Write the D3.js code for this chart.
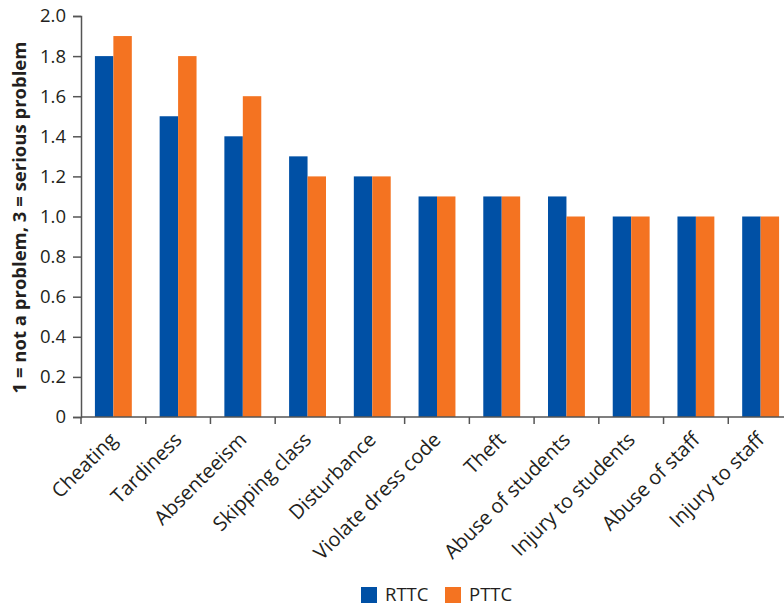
<!DOCTYPE html>
<html>
<head>
<meta charset="utf-8">
<script src="https://cdn.jsdelivr.net/npm/d3@7"></script>
<style>
  html, body { margin: 0; padding: 0; background: #fff; }
  svg { display: block; }
  text { font-family: "Open Sans", "Noto Sans", sans-serif; fill: #231f20; }
</style>
</head>
<body>
<svg id="chart" width="784" height="605"></svg>
<script>
const categories = ["Cheating", "Tardiness", "Absenteeism", "Skipping class", "Disturbance",
  "Violate dress code", "Theft", "Abuse of students", "Injury to students", "Abuse of staff", "Injury to staff"];
const seriesNames = ["RTTC", "PTTC"];
const rttc = [1.8, 1.5, 1.4, 1.3, 1.2, 1.1, 1.1, 1.1, 1.0, 1.0, 1.0];
const pttc = [1.9, 1.8, 1.6, 1.2, 1.2, 1.1, 1.1, 1.0, 1.0, 1.0, 1.0];
const yTicks = [0, 0.2, 0.4, 0.6, 0.8, 1.0, 1.2, 1.4, 1.6, 1.8, 2.0];
const colors = ["#0050a5", "#f47321"];

const svg = d3.select("#chart");
const plotLeft = 81, plotRight = 793, plotTop = 16, plotBottom = 417;

const x = d3.scaleBand().domain(categories).range([plotLeft, plotRight]).paddingInner(0.43).paddingOuter(0.215);
const xFull = d3.scaleBand().domain(categories).range([plotLeft, plotRight]).padding(0);
const xs = d3.scaleBand().domain(seriesNames).range([0, x.bandwidth()]);
const y = d3.scaleLinear().domain([0, 2]).range([plotBottom, plotTop]);

const data = categories.map((c, i) => ({ cat: c, vals: [rttc[i], pttc[i]] }));

// bars
const groups = svg.append("g").selectAll("g").data(data).join("g")
  .attr("transform", d => `translate(${x(d.cat)},0)`);
groups.selectAll("rect").data(d => d.vals.map((v, j) => ({ v, s: seriesNames[j], j })))
  .join("rect")
  .attr("x", d => xs(d.s))
  .attr("width", xs.bandwidth())
  .attr("y", d => y(d.v))
  .attr("height", d => y(0) - y(d.v))
  .attr("fill", d => colors[d.j]);

// y axis
const yAxis = svg.append("g").attr("transform", `translate(${plotLeft},0)`)
  .call(d3.axisLeft(y).tickValues(yTicks).tickSize(8).tickPadding(7)
    .tickFormat(d => d === 0 ? "0" : d3.format(".1f")(d)));
yAxis.select(".domain").attr("stroke", "#555").attr("stroke-width", 1.5);
yAxis.selectAll(".tick line").attr("stroke", "#555").attr("stroke-width", 1.5);
yAxis.selectAll("text").style("font-size", "18.5px").attr("fill", "#231f20");

// x axis with ticks at band boundaries
const xAxisG = svg.append("g").attr("transform", `translate(0,${plotBottom})`);
xAxisG.append("line").attr("x1", plotLeft).attr("x2", 784).attr("stroke", "#555").attr("stroke-width", 1.5);
xAxisG.selectAll("line.tk").data(categories).join("line").attr("class", "tk")
  .attr("x1", d => xFull(d)).attr("x2", d => xFull(d))
  .attr("y1", 0).attr("y2", 7).attr("stroke", "#555").attr("stroke-width", 1.5);
xAxisG.selectAll("text").data(categories).join("text")
  .attr("transform", d => `translate(${xFull(d) + xFull.bandwidth() / 2 + 5},${24}) rotate(-45)`)
  .attr("text-anchor", "end")
  .style("font-size", "20px")
  .text(d => d);

// y axis title
svg.append("text")
  .attr("transform", `translate(26,${(plotTop + plotBottom) / 2 + 1}) rotate(-90)`)
  .attr("text-anchor", "middle")
  .style("font-size", "18.5px")
  .style("font-weight", "bold")
  .text("1 = not a problem, 3 = serious problem");

// legend
const legend = svg.append("g").attr("transform", "translate(361,587)");
const items = legend.selectAll("g").data(seriesNames).join("g")
  .attr("transform", (d, i) => `translate(${i * 84},0)`);
items.append("rect").attr("width", 16).attr("height", 16).attr("fill", (d, i) => colors[i]);
items.append("text").attr("x", 24).attr("y", 13.5).style("font-size", "18.5px").text(d => d);
</script>
</body>
</html>
